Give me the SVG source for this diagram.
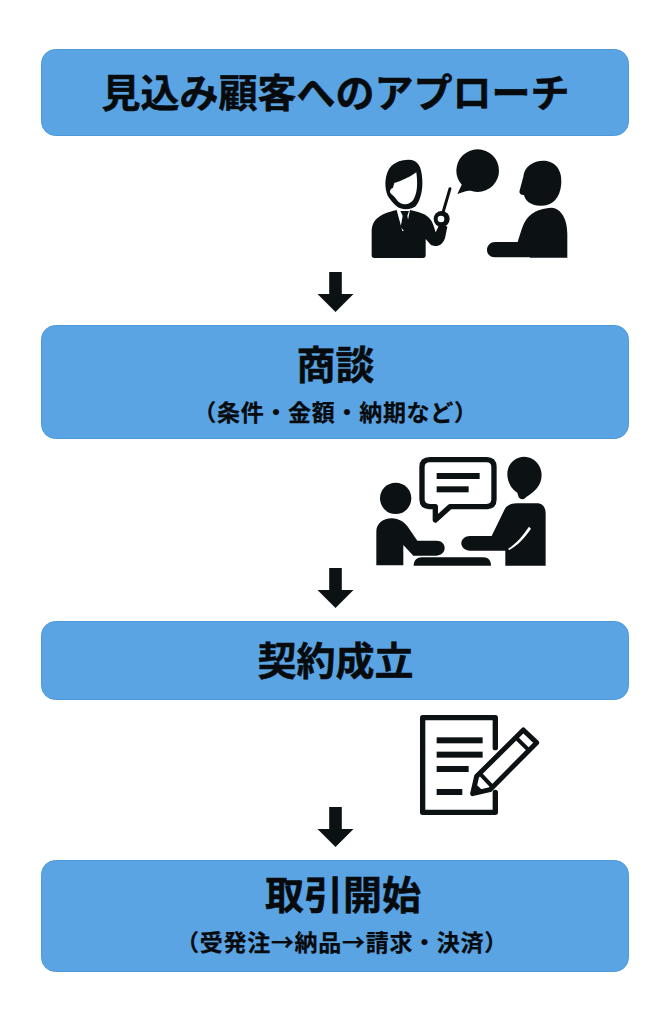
<svg xmlns="http://www.w3.org/2000/svg" width="670" height="1017" viewBox="0 0 670 1017">
<style>
.box{fill:#5aa4e4;stroke:#4f98dc;stroke-width:1}
.t{font-family:"Noto Sans CJK JP","Noto Sans CJK SC",sans-serif;font-weight:700;fill:#070b0e;stroke:#070b0e;text-anchor:middle}
.h{font-size:39px;stroke-width:.5}
.s{font-size:23px;stroke-width:.25;letter-spacing:.7px}
.i{fill:#0c1214}
.w{fill:#fff}
.l{fill:none;stroke:#0c1214;stroke-linecap:round;stroke-linejoin:round}
</style>
<defs>
<path id="arr" d="M-6.3 0H6.3V22H18L0 40L-18 22H-6.3Z" fill="#0c1214"/>
</defs>
<rect width="670" height="1017" fill="#fff"/>
<g id="connectors">
<use href="#arr" x="335.5" y="272"/>
<use href="#arr" x="335.5" y="568"/>
<use href="#arr" x="335.5" y="807"/>
</g>
<g id="node-approach">
<rect class="box" x="41.5" y="49.5" width="587" height="86" rx="14"/>
<text class="t h" x="335.5" y="107">見込み顧客へのアプローチ</text>
</g>
<g id="icon-presentation">
<g transform="translate(360 140) scale(.3333)">
<circle class="i" cx="353" cy="92" r="64"/>
<path class="i" d="M292 162L312 120L340 150Q318 152 292 162Z"/>
<path class="i" d="M490 110C492 80 520 62 550 62C585 62 606 90 604 125C603 165 585 196 545 197C510 198 495 180 492 165C480 166 476 158 480 148Z"/>
<path class="i" d="M575 203C605 205 622 240 622 280V353H510V352H405C390 352 381 342 381 330C381 316 392 306 405 306H473C485 270 490 240 515 222C530 210 550 205 575 203Z"/>
</g>
<g transform="translate(365 155) scale(.3333)">
<path class="i" d="M68 122C58 95 60 70 68 50C78 25 105 14 130 14C160 14 170 35 172 75C174 110 164 140 152 154C135 167 105 164 95 154C85 144 76 135 68 122Z"/>
<path class="w" d="M88 84C108 78 132 68 154 52C158 82 158 113 146 133C133 153 107 153 94 133C90 126 80 120 75 112C74 105 78 100 84 98Z"/>
<path class="i" d="M20 232C20 195 40 178 95 165L112 228H122L135 165C170 172 195 180 205 210L212 232L225 205L247 215L240 250C232 272 215 278 198 270L182 252V301Q182 309 174 309H28Q20 309 20 301Z"/>
<path class="i" d="M106 168H132L127 182L133 216L120 232L107 216L113 182Z"/>
<path class="l" d="M255 101L233 176" stroke-width="9"/>
<circle class="i" cx="230" cy="192" r="24"/>
<circle class="w" cx="228" cy="192" r="10"/>
</g>
</g>
<g id="node-negotiation">
<rect class="box" x="41.5" y="325.5" width="587" height="113" rx="14"/>
<text class="t h" x="335.5" y="379">商談</text>
<text class="t s" x="335.5" y="421">（条件・金額・納期など）</text>
</g>
<g id="icon-meeting" transform="translate(310 450) scale(.3333)">
<circle class="i" cx="257" cy="145" r="47"/>
<path class="i" d="M199 346V245C199 220 220 205 245 205C270 205 288 220 300 240L322 272H380C395 272 404 282 404 294C404 308 392 317 378 317H310L280 285V346Z"/>
<path class="i" d="M311 347C311 330 322 322 335 322H520C535 322 543 332 543 347Z"/>
<path class="l" d="M360 29H530Q552 29 552 51V148Q552 170 530 170H420L376 210V170H360Q336 170 336 148V51Q336 29 360 29Z" stroke-width="16"/>
<rect class="i" x="380" y="69" width="129" height="18"/>
<rect class="i" x="380" y="109" width="96" height="18"/>
<path class="i" d="M592 72C592 42 615 20 643 20C672 20 695 45 695 75C695 105 675 125 650 140Q636 155 626 142L622 128C604 118 592 95 592 72Z"/>
<path class="i" d="M545 258L583 180C590 165 605 160 620 160H680C698 160 707 172 707 190V347H586V302H480C465 302 454 292 454 280C454 268 465 258 480 258Z"/>
<path d="M657 230L663 236C645 262 625 285 598 300L594 297C620 280 640 255 657 230Z" fill="#fff"/>
</g>
<g id="node-contract">
<rect class="box" x="41.5" y="621.5" width="587" height="78" rx="14"/>
<text class="t h" x="335.5" y="675">契約成立</text>
</g>
<g id="icon-document" transform="translate(310 705) scale(.3333)">
<path class="l" d="M556 128V38H338V322H556V262" stroke-width="16"/>
<rect class="i" x="380" y="97" width="138" height="18"/>
<rect class="i" x="380" y="140" width="138" height="18"/>
<rect class="i" x="380" y="183" width="96" height="18"/>
<rect class="i" x="380" y="252" width="77" height="18"/>
<path class="l" d="M640 75L680 113L540 254L488 266L500 214Z" stroke-width="15"/>
<path class="l" d="M618 98L657 136M510 206L546 244" stroke-width="12"/>
<path class="i" d="M495 235L520 258L488 268Z"/>
</g>
<g id="node-start">
<rect class="box" x="41.5" y="860.5" width="587" height="111" rx="14"/>
<text class="t h" x="343" y="909">取引開始</text>
<text class="t s" x="342" y="951">（受発注→納品→請求・決済）</text>
</g>
</svg>
